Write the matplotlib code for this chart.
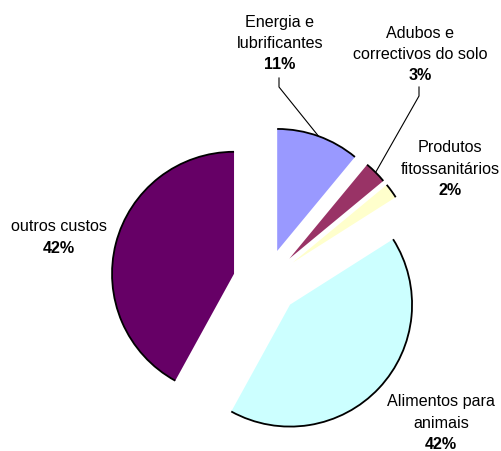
import matplotlib
matplotlib.use("Agg")
import matplotlib.pyplot as plt
from matplotlib.patches import Arc
import numpy as np

plt.rcParams['font.family'] = ['Liberation Sans', 'DejaVu Sans']

# data
names = ["Energia e\nlubrificantes", "Adubos e\ncorrectivos do solo",
         "Produtos\nfitossanitários", "Alimentos para\nanimais", "outros custos"]
shares = [11, 3, 2, 42, 42]
colors = ["#9999FF", "#993366", "#FFFFCC", "#CCFFFF", "#660066"]

W, H = 502, 452
R = 122
CX, CY = 266, H - 283   # pie centre in pixel-like data units
EXPL = 33

# label centres (x, y of top line in image pixels), line step
label_pos = [(280, 22), (420, 33), (450, 148), (441, 402), (59, 227)]
LINE = 21.3
# slices that get a leader line
leaders = {0: (279, 79), 1: (419, 88)}

fig = plt.figure(figsize=(W / 100, H / 100), dpi=100)
ax = fig.add_axes([0, 0, 1, 1])

wedges, _ = ax.pie(shares, colors=colors, startangle=90, counterclock=False,
                   radius=R, center=(CX, CY), explode=[EXPL] * len(shares),
                   wedgeprops=dict(edgecolor='none', linewidth=0))

# outline only the outer arc of each slice
for w in wedges:
    ax.add_patch(Arc(w.center, 2 * w.r, 2 * w.r, theta1=w.theta1, theta2=w.theta2,
                     color='black', lw=1.3, zorder=3))

total = sum(shares)
for i, (name, val) in enumerate(zip(names, shares)):
    x, y = label_pos[i]
    lines = name.split("\n")
    for k, ln in enumerate(lines):
        ax.text(x, H - (y + k * LINE), ln, ha='center', va='center', fontsize=11.6)
    pct = f"{round(100 * val / total)}%"
    ax.text(x, H - (y + len(lines) * LINE), pct, ha='center', va='center',
            fontsize=11.6, fontweight='bold')

    if i in leaders:
        w = wedges[i]
        mid = np.radians((w.theta1 + w.theta2) / 2)
        px = w.center[0] + w.r * np.cos(mid)
        py = w.center[1] + w.r * np.sin(mid)
        sx, sy = leaders[i]
        ax.plot([sx, sx, px], [H - sy, H - sy - 9, py], color='black', lw=0.8, zorder=4)

ax.set_xlim(0, W)
ax.set_ylim(0, H)
ax.set_aspect('equal')
ax.axis('off')

fig.savefig("out.png", dpi=100)
